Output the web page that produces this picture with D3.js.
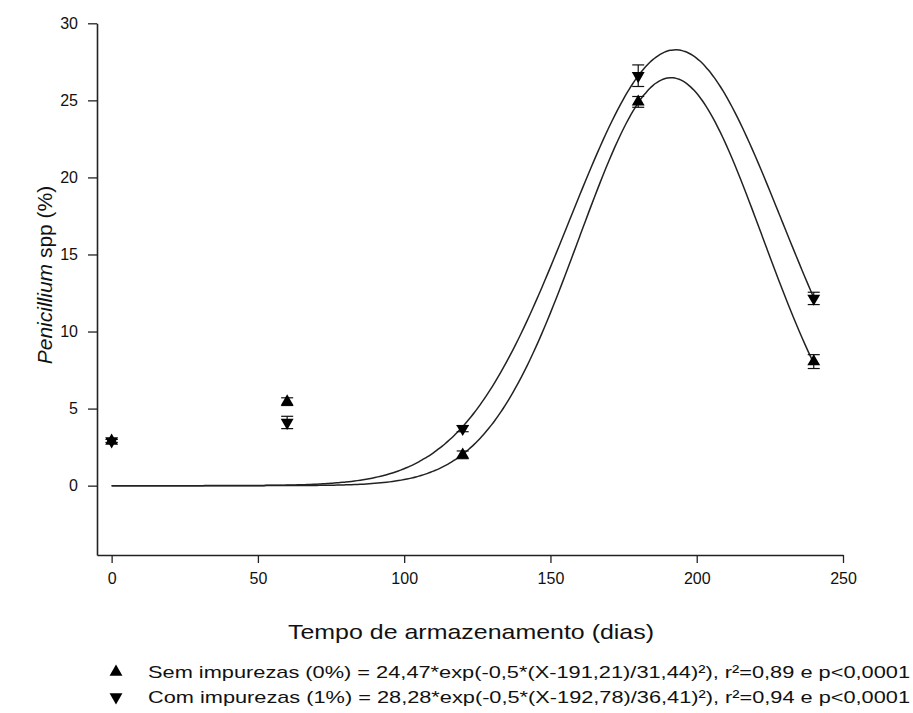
<!DOCTYPE html>
<html>
<head>
<meta charset="utf-8">
<script src="https://cdn.jsdelivr.net/npm/d3@7"></script>
<style>
  body { margin: 0; background: #fff; }
  svg { display: block; font-family: "Liberation Sans", Arial, sans-serif; }
</style>
</head>
<body>
<svg id="chart" width="913" height="713"></svg>
<script>
// Storage time (days)
const days = [0, 60, 120, 180, 240];
// Penicillium spp (%) without impurities (0%)
const semValues = [2.9, 5.45, 2.0, 24.9, 8.05];
const semErrors = [0.1, 0.25, 0.25, 0.35, 0.45];
// Penicillium spp (%) with impurities (1%)
const comValues = [2.9, 4.1, 3.7, 26.6, 12.15];
const comErrors = [0.1, 0.4, 0.2, 0.7, 0.4];
// Gaussian fit parameters: amplitude, centre, width
const semFit = [26.47, 191.21, 31.44];
const comFit = [28.28, 192.78, 36.41];
const xTicks = [0, 50, 100, 150, 200, 250];
const yTicks = [0, 5, 10, 15, 20, 25, 30];
const legendLabels = [
  "Sem impurezas (0%) = 24,47*exp(-0,5*(X-191,21)/31,44)²), r²=0,89 e p<0,0001",
  "Com impurezas (1%) = 28,28*exp(-0,5*(X-192,78)/36,41)²), r²=0,94 e p<0,0001"
];

const svg = d3.select("#chart");
const x = d3.scaleLinear().domain([-5, 250]).range([97, 843]);
const y = d3.scaleLinear().domain([-4.5, 30]).range([555, 23.3]);

// Axes
const xAxis = svg.append("g").attr("transform", `translate(0,${y(-4.5)})`)
  .call(d3.axisBottom(x).tickValues(xTicks).tickSize(8).tickPadding(10).tickSizeOuter(0));
const yAxis = svg.append("g").attr("transform", `translate(${x(-5)},0)`)
  .call(d3.axisLeft(y).tickValues(yTicks).tickSize(9).tickPadding(10).tickSizeOuter(0));
[xAxis, yAxis].forEach(a => {
  a.select(".domain").attr("stroke", "#222").attr("stroke-width", 1.6);
  a.selectAll(".tick line").attr("stroke", "#222").attr("stroke-width", 1.3);
  a.selectAll(".tick text").attr("fill", "#111").style("font-size", "16px")
    .style("font-family", "'Liberation Sans', Arial, sans-serif");
});

// Axis titles
svg.append("text")
  .attr("x", 471).attr("y", 639)
  .attr("text-anchor", "middle")
  .attr("textLength", 366).attr("lengthAdjust", "spacingAndGlyphs")
  .style("font-size", "21px").attr("fill", "#111")
  .text("Tempo de armazenamento (dias)");
const yt = svg.append("text")
  .attr("transform", `translate(52,275) rotate(-90)`)
  .attr("text-anchor", "middle")
  .style("font-size", "21px").attr("fill", "#111");
yt.append("tspan").style("font-style", "italic").text("Penicillium");
yt.append("tspan").text(" spp (%)");

// Fitted curves
const gauss = p => t => p[0] * Math.exp(-0.5 * Math.pow((t - p[1]) / p[2], 2));
const curveDays = d3.range(0, 240.5, 1);
const line = d3.line().x(d => x(d[0])).y(d => y(d[1])).curve(d3.curveMonotoneX);
[semFit, comFit].forEach(p => {
  const f = gauss(p);
  svg.append("path")
    .datum(curveDays.map(t => [t, f(t)]))
    .attr("d", line)
    .attr("fill", "none").attr("stroke", "#222").attr("stroke-width", 1.5);
});

// Error bars and markers
const series = [
  { values: semValues, errors: semErrors, rot: 0 },
  { values: comValues, errors: comErrors, rot: 180 }
];
const tri = d3.symbol().type(d3.symbolTriangle).size(72);
series.forEach(s => {
  const g = svg.append("g");
  days.forEach((d, i) => {
    const cx = x(d), v = s.values[i], e = s.errors[i];
    const y0 = y(v - e), y1 = y(v + e);
    g.append("line").attr("x1", cx).attr("x2", cx).attr("y1", y0).attr("y2", y1)
      .attr("stroke", "#111").attr("stroke-width", 1.2);
    [y0, y1].forEach(yy => g.append("line")
      .attr("x1", cx - 6).attr("x2", cx + 6).attr("y1", yy).attr("y2", yy)
      .attr("stroke", "#111").attr("stroke-width", 1.2));
    g.append("path").attr("d", tri)
      .attr("transform", `translate(${cx},${y(v)}) rotate(${s.rot})`)
      .attr("fill", "#000");
  });
});

// Legend
legendLabels.forEach((lbl, i) => {
  const ly = 678 + i * 25;
  svg.append("path").attr("d", tri)
    .attr("transform", `translate(116,${ly - 6}) rotate(${i ? 180 : 0})`)
    .attr("fill", "#000");
  svg.append("text").attr("x", 148).attr("y", ly)
    .attr("textLength", 762).attr("lengthAdjust", "spacingAndGlyphs")
    .style("font-size", "17px").attr("fill", "#111")
    .text(lbl);
});
</script>
</body>
</html>
